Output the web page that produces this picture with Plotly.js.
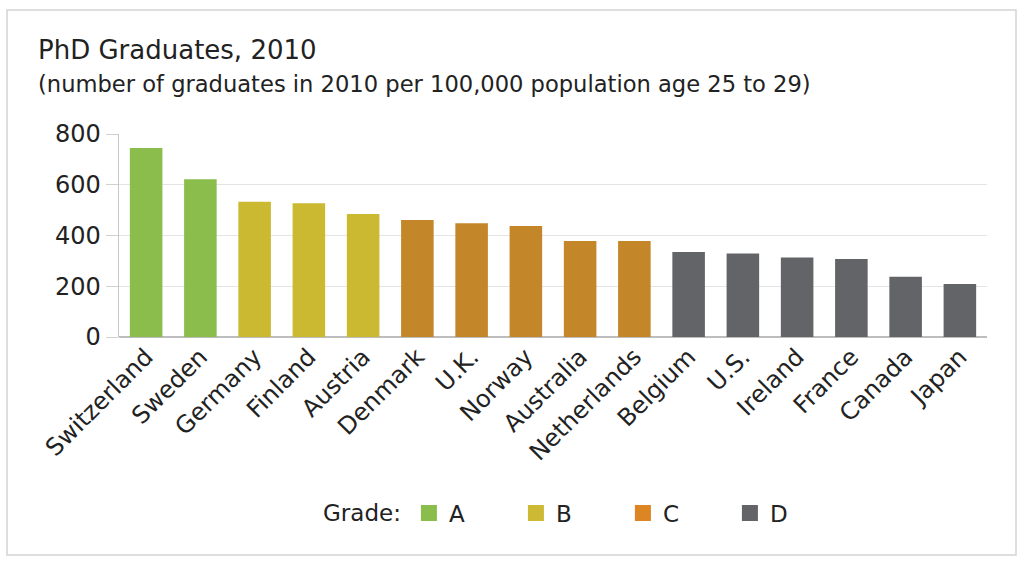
<!DOCTYPE html>
<html>
<head>
<meta charset="utf-8">
<script src="https://cdn.plot.ly/plotly-3.0.1.min.js"></script>
<style>html,body{margin:0;padding:0;background:#fff;}#chart{width:1024px;height:563px;}</style>
</head>
<body>
<div id="chart"></div>
<script>
const countries = ["Switzerland","Sweden","Germany","Finland","Austria","Denmark","U.K.","Norway","Australia","Netherlands","Belgium","U.S.","Ireland","France","Canada","Japan"];
const values = [745, 622, 533, 527, 485, 461, 448, 437, 378, 378, 335, 329, 313, 307, 237, 209];
const grades = ["A","A","B","B","B","C","C","C","C","C","D","D","D","D","D","D"];
const gradeNames = ["A","B","C","D"];
const barColors = {A:"#8BBD4C", B:"#CCB932", C:"#C38628", D:"#636468"};
const legendColors = {A:"#8BBD4C", B:"#CDB933", C:"#DD8522", D:"#636468"};
const yTicks = [0, 200, 400, 600, 800];

const FONT = "DejaVu Sans, Verdana, sans-serif";
const traces = [];
gradeNames.forEach(g => {
  const xs = [], ys = [];
  countries.forEach((c, i) => { if (grades[i] === g) { xs.push(c); ys.push(values[i]); } });
  traces.push({type:"bar", x:xs, y:ys, marker:{color:barColors[g]}, width:0.6, showlegend:false, hoverinfo:"x+y"});
});
gradeNames.forEach(g => {
  traces.push({type:"scatter", mode:"markers", x:[null], y:[null], name:g,
    marker:{symbol:"square", size:22, color:legendColors[g]}, showlegend:true});
});

const layout = {
  width:1024, height:563,
  margin:{l:119, r:37, t:134, b:226},
  paper_bgcolor:"#fff", plot_bgcolor:"#fff",
  font:{family:FONT, color:"#222"},
  barmode:"overlay",
  showlegend:true,
  xaxis:{type:"category", categoryorder:"array", categoryarray:countries, range:[-0.5,15.5],
    tickangle:-45, tickfont:{size:24, color:"#222"}, showgrid:false, zeroline:false,
    showline:false, ticks:"", automargin:false, fixedrange:true},
  yaxis:{range:[0,800], tickvals:yTicks, ticktext:yTicks.map(String), tickfont:{size:24, color:"#222"},
    showgrid:true, gridcolor:"#e4e4e4", gridwidth:1, zeroline:true, zerolinecolor:"#bdbdbd", zerolinewidth:1.5,
    showline:true, linecolor:"#c8c8c8", linewidth:1.5, ticks:"outside", ticklen:12, tickcolor:"#d0d0d0", tickwidth:1,
    automargin:false, fixedrange:true},
  legend:{orientation:"h", x:0.53, xanchor:"center", y:-0.867, yanchor:"middle",
    font:{size:23, color:"#222"}, title:{text:"Grade:", font:{size:23, color:"#222"}, side:"left"},
    itemwidth:30, entrywidth:62, bgcolor:"rgba(0,0,0,0)"},
  annotations:[
    {text:"PhD Graduates, 2010", xref:"paper", yref:"paper", x:(36-119)/868, y:(337-50)/203,
      xanchor:"left", yanchor:"middle", showarrow:false, font:{size:26, color:"#222", family:FONT}},
    {text:"(number of graduates in 2010 per 100,000 population age 25 to 29)", xref:"paper", yref:"paper",
      x:(36-119)/868, y:(337-84)/203, xanchor:"left", yanchor:"middle", showarrow:false,
      font:{size:22.6, color:"#222", family:FONT}}
  ],
  shapes:[
    {type:"rect", xref:"paper", yref:"paper", x0:(7-119)/868, x1:(1016-119)/868, y0:(337-555)/203, y1:(337-10)/203,
      line:{color:"#d4d4d4", width:1.5}, fillcolor:"rgba(0,0,0,0)", layer:"below"}
  ]
};
Plotly.newPlot("chart", traces, layout, {displayModeBar:false, staticPlot:true});
</script>
</body>
</html>
